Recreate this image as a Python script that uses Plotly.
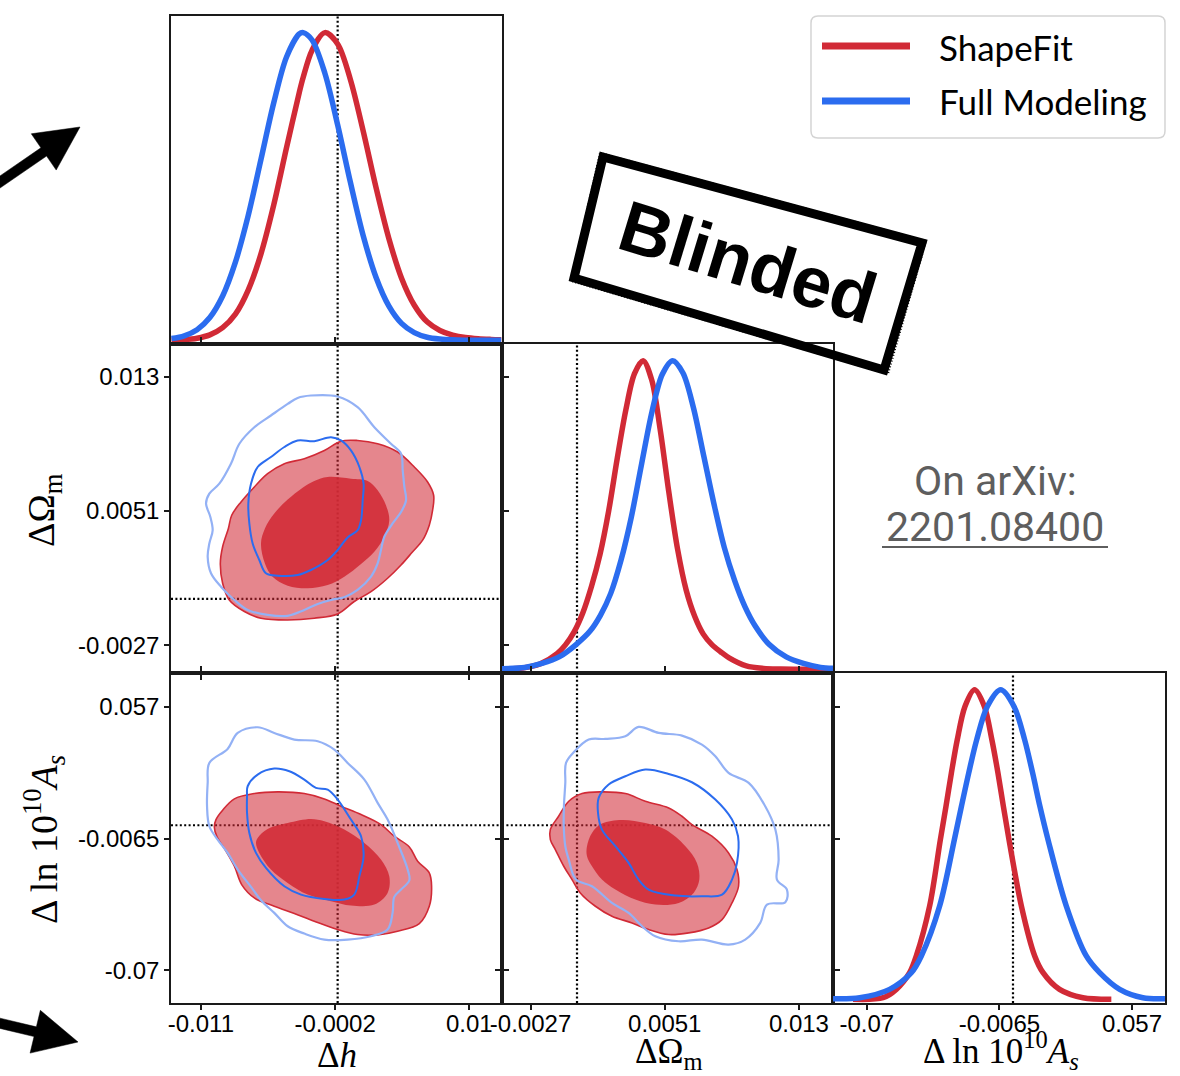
import math
import plotly.graph_objects as go

FIG_W, FIG_H = 1180, 1076

# ---------------------------------------------------------------------------
# 1D marginal posteriors (normalised to unit peak)
# ---------------------------------------------------------------------------
dh_x = [-0.013, -0.012, -0.011, -0.010, -0.009, -0.008, -0.007, -0.006, -0.005,
        -0.004, -0.003, -0.0027, -0.002, -0.001, 0.000, 0.001, 0.002, 0.003,
        0.004, 0.005, 0.006, 0.007, 0.008, 0.009, 0.010, 0.011, 0.012, 0.0128]
dh_shapefit = [0.001, 0.0024, 0.0069, 0.0176, 0.041, 0.085, 0.163, 0.281, 0.440,
               0.626, 0.806, 0.854, 0.943, 1.0, 0.963, 0.847, 0.680, 0.497,
               0.332, 0.202, 0.114, 0.060, 0.032, 0.017, 0.009, 0.005, 0.003, 0.002]
dh_fullmod = [0.0056, 0.0147, 0.0346, 0.0741, 0.144, 0.254, 0.405, 0.588, 0.772,
              0.921, 0.996, 1.0, 0.976, 0.868, 0.700, 0.513, 0.340, 0.205,
              0.112, 0.055, 0.025, 0.010, 0.004, 0.0015, 0.0005, 0.0002, 0.0001, 0.0]

dom_shapefit_x = [-0.00436, -0.00316, -0.00216, -0.00116, -0.00066, -0.00016, 0.00034,
                  0.00084, 0.00134, 0.00184, 0.00234, 0.00284, 0.00334, 0.00384,
                  0.00434, 0.00484, 0.00534, 0.00584, 0.00634, 0.00684, 0.00734,
                  0.00784, 0.00834, 0.00884, 0.00984, 0.01084, 0.01184, 0.01488]
dom_shapefit_p = [0.001, 0.004, 0.017, 0.051, 0.080, 0.122, 0.183, 0.268, 0.373, 0.513,
                  0.684, 0.841, 0.958, 1.0, 0.938, 0.775, 0.573, 0.391, 0.258, 0.172,
                  0.114, 0.080, 0.057, 0.037, 0.011, 0.003, 0.001, 0.0]
dom_fullmod_x = [-0.00436, -0.00304, -0.00204, -0.00104, -0.00004, 0.00076, 0.00136,
                 0.00196, 0.00256, 0.00316, 0.00376, 0.00436, 0.00496, 0.00556,
                 0.00616, 0.00676, 0.00736, 0.00796, 0.00856, 0.00916, 0.00976,
                 0.01036, 0.01116, 0.01216, 0.01316, 0.01416, 0.01488]
dom_fullmod_p = [0.002, 0.006, 0.019, 0.040, 0.081, 0.124, 0.175, 0.246, 0.354, 0.494,
                 0.667, 0.835, 0.956, 1.0, 0.960, 0.849, 0.693, 0.536, 0.395, 0.288,
                 0.203, 0.140, 0.081, 0.040, 0.019, 0.006, 0.003]

das_shapefit_x = [-0.0766, -0.0622, -0.0559, -0.0495, -0.0463, -0.0399, -0.0348, -0.0321,
                  -0.0295, -0.0267, -0.0230, -0.0184, -0.0137, -0.0101, -0.0072, -0.0046,
                  -0.0019, 0.0040, 0.0104, 0.0144, 0.0223, 0.0335, 0.0471]
das_shapefit_p = [0.0, 0.005, 0.032, 0.086, 0.140, 0.302, 0.515, 0.623, 0.731, 0.838,
                  0.946, 1.0, 0.946, 0.838, 0.731, 0.623, 0.515, 0.302, 0.140, 0.086,
                  0.032, 0.005, 0.0]
das_fullmod_x = [-0.0862, -0.0734, -0.0591, -0.0487, -0.0439, -0.0351, -0.0281, -0.0247,
                 -0.0212, -0.0174, -0.0123, -0.0059, 0.0005, 0.0056, 0.0094, 0.0129,
                 0.0168, 0.0255, 0.0351, 0.0415, 0.0511, 0.0622, 0.0728]
das_fullmod_p = [0.002, 0.005, 0.032, 0.086, 0.140, 0.302, 0.515, 0.623, 0.731, 0.838,
                 0.946, 1.0, 0.946, 0.838, 0.731, 0.623, 0.515, 0.302, 0.140, 0.086,
                 0.032, 0.005, 0.002]

# ---------------------------------------------------------------------------
# 2D credible-region boundaries (68% and 95%)
# ---------------------------------------------------------------------------
# Δh vs ΔΩm
h_om_sf95_x = [0.00026, 0.00156, 0.00313, 0.00469, 0.00600, 0.00704, 0.00751, 0.00743,
               0.00717, 0.00665, 0.00587, 0.00496, 0.00391, 0.00261, 0.00130, 0.0,
               -0.00183, -0.00391, -0.00600, -0.00730, -0.00848, -0.00900, -0.00918,
               -0.00900, -0.00855, -0.00829, -0.00756, -0.00652, -0.00548, -0.00417,
               -0.00261, -0.00104]
h_om_sf95_y = [0.00916, 0.00920, 0.00901, 0.00853, 0.00766, 0.00679, 0.00602, 0.00515,
               0.00428, 0.00341, 0.00274, 0.00197, 0.00120, 0.00042, -0.00015, -0.00087,
               -0.00112, -0.00122, -0.00112, -0.00073, -0.00006, 0.00091, 0.00206,
               0.00303, 0.00409, 0.00486, 0.00563, 0.00650, 0.00727, 0.00785,
               0.00814, 0.00862]
h_om_sf68_x = [-0.00078, 0.00104, 0.00235, 0.00313, 0.00378, 0.00404, 0.00365, 0.00287,
               0.00183, 0.00052, -0.00078, -0.00235, -0.00391, -0.00509, -0.00569,
               -0.00600, -0.00569, -0.00496, -0.00391, -0.00274, -0.00183]
h_om_sf68_y = [0.00708, 0.00698, 0.00685, 0.00631, 0.00544, 0.00457, 0.00361, 0.00274,
               0.00203, 0.00129, 0.00081, 0.00062, 0.00077, 0.00129, 0.00206, 0.00322,
               0.00409, 0.00496, 0.00577, 0.00646, 0.00685]
h_om_fm68_x = [-0.00313, -0.00183, -0.00052, 0.00026, 0.00104, 0.00170, 0.00203, 0.00196,
               0.00183, 0.00156, 0.00078, 0.0, -0.00078, -0.00209, -0.00313, -0.00469,
               -0.00561, -0.00613, -0.00665, -0.00691, -0.00699, -0.00678, -0.00626,
               -0.00522, -0.00417]
h_om_fm68_y = [0.00920, 0.00916, 0.00939, 0.00920, 0.00862, 0.00766, 0.00669, 0.00573,
               0.00457, 0.00399, 0.00357, 0.00284, 0.00226, 0.00168, 0.00139, 0.00135,
               0.00149, 0.00226, 0.00322, 0.00438, 0.00554, 0.00669, 0.00766, 0.00824,
               0.00882]
h_om_fm95_x = [-0.00209, 0.0, 0.00156, 0.00287, 0.00417, 0.00496, 0.00509, 0.00522,
               0.00535, 0.00496, 0.00430, 0.00365, 0.00339, 0.00313, 0.00261, 0.00156,
               0.00052, -0.00052, -0.00156, -0.00261, -0.00391, -0.00548, -0.00704,
               -0.00808, -0.00913, -0.00991, -0.01017, -0.01004, -0.00978, -0.00996,
               -0.01030, -0.01004, -0.00926, -0.00835, -0.00769, -0.00652, -0.00522,
               -0.00391, -0.00313]
h_om_fm95_y = [0.01181, 0.01175, 0.01113, 0.00997, 0.00901, 0.00843, 0.00747, 0.00650,
               0.00573, 0.00505, 0.00438, 0.00361, 0.00284, 0.00206, 0.00129, 0.00052,
               0.0001, -0.00006, -0.00029, -0.00064, -0.00098, -0.00093, -0.00064,
               -0.00006, 0.00071, 0.00149, 0.00245, 0.00322, 0.00399, 0.00476,
               0.00554, 0.00611, 0.00669, 0.00785, 0.00901, 0.00997, 0.01065,
               0.01132, 0.01167]

# Δh vs Δln10^10 As
h_as_sf95_x = [-0.00952, -0.00900, -0.00808, -0.00652, -0.00469, -0.00261, -0.00104,
               0.00026, 0.00183, 0.00339, 0.00443, 0.00561, 0.00626, 0.00717, 0.00735,
               0.00717, 0.00639, 0.00469, 0.00313, 0.00156, 0.0, -0.00183, -0.00339,
               -0.00496, -0.00652, -0.00751, -0.00808, -0.00881, -0.00944, -0.00965]
h_as_sf95_y = [0.00273, 0.00723, 0.01270, 0.01527, 0.01607, 0.01527, 0.01270, 0.00916,
               0.00514, 0.00032, -0.00530, -0.01045, -0.01736, -0.02298, -0.02941,
               -0.03905, -0.04741, -0.05110, -0.05287, -0.05271, -0.05030, -0.04628,
               -0.04259, -0.03905, -0.03503, -0.02860, -0.01977, -0.01173, -0.00562,
               -0.00080]
h_as_sf68_x = [-0.00626, -0.00548, -0.00391, -0.00209, -0.00104, 0.00052, 0.00209,
               0.00339, 0.00404, 0.00391, 0.00287, 0.00104, -0.00052, -0.00235,
               -0.00391, -0.00522, -0.00613, -0.00639]
h_as_sf68_y = [-0.00611, -0.00177, 0.00112, 0.00305, 0.00193, -0.00209, -0.00852,
               -0.01655, -0.02459, -0.03262, -0.03825, -0.03873, -0.03664, -0.03343,
               -0.02780, -0.02137, -0.01334, -0.00852]
h_as_fm68_x = [-0.00704, -0.00626, -0.00496, -0.00378, -0.00261, -0.00170, -0.00078, 0.0,
               0.00104, 0.00183, 0.00203, 0.00170, 0.00130, 0.00052, -0.00104, -0.00287,
               -0.00417, -0.00561, -0.00639, -0.00691, -0.00709, -0.00709]
h_as_fm68_y = [0.01880, 0.02443, 0.02732, 0.02603, 0.02202, 0.01800, 0.01719, 0.01237,
               0.00273, -0.00530, -0.01495, -0.02459, -0.03343, -0.03584, -0.03551,
               -0.03343, -0.02941, -0.02057, -0.01334, -0.00370, 0.00595, 0.01398]
h_as_fm95_x = [-0.01004, -0.00861, -0.00782, -0.00626, -0.00496, -0.00339, -0.00156,
               -0.00026, 0.00078, 0.00209, 0.00313, 0.00391, 0.00469, 0.00548, 0.00561,
               0.00496, 0.00443, 0.00430, 0.00391, 0.00261, 0.00078, -0.00104, -0.00261,
               -0.00391, -0.00496, -0.00600, -0.00678, -0.00782, -0.00861, -0.00939,
               -0.01004, -0.01022, -0.01017]
h_as_fm95_y = [0.03005, 0.03680, 0.04451, 0.04725, 0.04451, 0.04130, 0.04050, 0.03648,
               0.03005, 0.02202, 0.01077, 0.00273, -0.00852, -0.02137, -0.02652,
               -0.03102, -0.03455, -0.04226, -0.05030, -0.05351, -0.05512, -0.05512,
               -0.05223, -0.04869, -0.04226, -0.03616, -0.02973, -0.02137, -0.01334,
               -0.00691, -0.00048, 0.00916, 0.02041]

# ΔΩm vs Δln10^10 As
om_as_sf95_x = [-0.00155, -0.00107, -0.00048, 0.00029, 0.00145, 0.00281, 0.00397,
                0.00533, 0.00610, 0.00668, 0.00784, 0.00881, 0.00930, 0.00939, 0.00901,
                0.00843, 0.00765, 0.00649, 0.00533, 0.00416, 0.00320, 0.00203, 0.00107,
                0.00019, -0.00029, -0.00077, -0.00126, -0.00155]
om_as_sf95_y = [-0.00209, 0.00434, 0.01157, 0.01527, 0.01607, 0.01527, 0.01157, 0.00836,
                0.00434, 0.00032, -0.00530, -0.01334, -0.02137, -0.02941, -0.03744,
                -0.04548, -0.04950, -0.05191, -0.05271, -0.05030, -0.04709, -0.04387,
                -0.03905, -0.03262, -0.02619, -0.01977, -0.01173, -0.00691]
om_as_sf68_x = [0.00058, 0.00087, 0.00145, 0.00261, 0.00397, 0.00513, 0.00630, 0.00697,
                0.00711, 0.00678, 0.00591, 0.00455, 0.00339, 0.00223, 0.00145, 0.00087,
                0.00058]
om_as_sf68_y = [-0.01012, -0.00370, 0.00080, 0.00257, 0.00112, -0.00209, -0.01012,
                -0.01816, -0.02619, -0.03262, -0.03744, -0.03825, -0.03584, -0.03102,
                -0.02619, -0.01977, -0.01495]
om_as_fm68_x = [0.00145, 0.00122, 0.00126, 0.00184, 0.00281, 0.00397, 0.00533, 0.00668,
                0.00804, 0.00901, 0.00936, 0.00930, 0.00901, 0.00843, 0.00726, 0.00571,
                0.00416, 0.00358, 0.00300, 0.00223]
om_as_fm68_y = [-0.00209, 0.00595, 0.01318, 0.01961, 0.02362, 0.02684, 0.02475, 0.02073,
                0.01237, 0.00273, -0.00530, -0.01816, -0.02619, -0.03343, -0.03423,
                -0.03391, -0.03102, -0.02619, -0.01816, -0.01012]
om_as_fm95_x = [-0.00068, -0.00064, -0.00019, 0.00068, 0.00165, 0.00281, 0.00358,
                0.00475, 0.00610, 0.00726, 0.00804, 0.00881, 0.00998, 0.01094, 0.01153,
                0.01172, 0.01162, 0.01220, 0.01211, 0.01104, 0.01065, 0.00978, 0.00881,
                0.00726, 0.00591, 0.00455, 0.00378, 0.00300, 0.00203, 0.00087,
                -0.00006, -0.00048, -0.00068, -0.00077, -0.00076]
om_as_fm95_y = [0.02041, 0.03005, 0.03519, 0.04130, 0.04162, 0.04291, 0.04741, 0.04451,
                0.04323, 0.03889, 0.03326, 0.02523, 0.02041, 0.00916, -0.00209, -0.01655,
                -0.02619, -0.03102, -0.03712, -0.03825, -0.04709, -0.05512, -0.05753,
                -0.05512, -0.05592, -0.05351, -0.04869, -0.04226, -0.03744, -0.02941,
                -0.02619, -0.01655, -0.01012, -0.00048, 0.00916]

# Tick positions / labels
h_tickvals = [-0.0107, -0.0002, 0.0103]
h_ticktext = ["-0.011", "-0.0002", "0.01"]
om_tickvals = [-0.0027, 0.0051, 0.0129]
om_ticktext = ["-0.0027", "0.0051", "0.013"]
as_tickvals = [-0.0700, -0.0065, 0.0570]
as_ticktext = ["-0.07", "-0.0065", "0.057"]

series_names = ["ShapeFit", "Full Modeling"]

# ---------------------------------------------------------------------------
# Styling
# ---------------------------------------------------------------------------
RED = "#d12a36"
BLUE = "#2b6cef"
BLUE_LIGHT = "#93b1f5"
RED_95 = "rgba(209,42,54,0.57)"
RED_68 = "rgba(209,42,54,0.88)"
SPINE = "#1a1a1a"

H_RANGE = [-0.01304, 0.01286]
OM_X_RANGE = [-0.00436, 0.01488]
OM_Y_RANGE = [-0.0043, 0.0148]
AS_X_RANGE = [-0.0862, 0.0728]
AS_Y_RANGE = [-0.0857, 0.0734]
PDF_RANGE = [-0.012, 1.054]

COLS = [(171, 502), (502, 833), (833, 1165)]
ROWS = [(16, 344), (344, 673), (673, 1003)]


def px(xp):
    return xp / FIG_W


def py(yp):
    return 1 - yp / FIG_H


def xdom(c):
    return [px(COLS[c][0]), px(COLS[c][1])]


def ydom(r):
    return [py(ROWS[r][1]), py(ROWS[r][0])]


def closed(seq):
    return list(seq) + [seq[0]]


fig = go.Figure()


def curve(x, y, color, ax):
    fig.add_trace(go.Scatter(
        x=x, y=y, mode="lines", xaxis="x" + ax, yaxis="y" + ax,
        line=dict(color=color, width=5.5, shape="spline", smoothing=0.9),
        hoverinfo="skip", showlegend=False))


def region(x, y, ax, fillcolor, linecolor, width):
    fig.add_trace(go.Scatter(
        x=closed(x), y=closed(y), mode="lines", fill="toself", fillcolor=fillcolor,
        xaxis="x" + ax, yaxis="y" + ax,
        line=dict(color=linecolor, width=width, shape="spline", smoothing=1.0),
        hoverinfo="skip", showlegend=False))


def outline(x, y, ax, color, width):
    fig.add_trace(go.Scatter(
        x=closed(x), y=closed(y), mode="lines", xaxis="x" + ax, yaxis="y" + ax,
        line=dict(color=color, width=width, shape="spline", smoothing=1.0),
        hoverinfo="skip", showlegend=False))


# 1D marginals: panel 1 (Δh), panel 3 (ΔΩm), panel 6 (Δln10^10 As)
curve(dh_x, dh_shapefit, RED, "")
curve(dh_x, dh_fullmod, BLUE, "")
curve(dom_shapefit_x, dom_shapefit_p, RED, "3")
curve(dom_fullmod_x, dom_fullmod_p, BLUE, "3")
curve(das_shapefit_x, das_shapefit_p, RED, "6")
curve(das_fullmod_x, das_fullmod_p, BLUE, "6")

# 2D panels
for ax, sf95, sf68, fm95, fm68 in [
    ("2", (h_om_sf95_x, h_om_sf95_y), (h_om_sf68_x, h_om_sf68_y),
     (h_om_fm95_x, h_om_fm95_y), (h_om_fm68_x, h_om_fm68_y)),
    ("4", (h_as_sf95_x, h_as_sf95_y), (h_as_sf68_x, h_as_sf68_y),
     (h_as_fm95_x, h_as_fm95_y), (h_as_fm68_x, h_as_fm68_y)),
    ("5", (om_as_sf95_x, om_as_sf95_y), (om_as_sf68_x, om_as_sf68_y),
     (om_as_fm95_x, om_as_fm95_y), (om_as_fm68_x, om_as_fm68_y)),
]:
    region(sf95[0], sf95[1], ax, RED_95, RED, 1.6)
    region(sf68[0], sf68[1], ax, RED_68, "rgba(209,42,54,0.0)", 0.5)
    outline(fm95[0], fm95[1], ax, BLUE_LIGHT, 2.2)
    outline(fm68[0], fm68[1], ax, BLUE, 2.0)

# ---------------------------------------------------------------------------
# Axes
# ---------------------------------------------------------------------------
TICKFONT = dict(family="Liberation Sans, Arial, sans-serif", size=24, color="black")


def axis(domain, rng, anchor, tickvals=None, ticktext=None, labels=False, standoff=0):
    a = dict(domain=domain, range=rng, anchor=anchor, showline=True, linecolor=SPINE,
             linewidth=1.6, mirror=True, showgrid=False, zeroline=False,
             fixedrange=True, automargin=False, ticks="", showticklabels=False)
    if tickvals is not None:
        a.update(tickmode="array", tickvals=tickvals, ticktext=ticktext,
                 ticks="outside", ticklen=5, tickwidth=1.5, tickcolor=SPINE,
                 mirror="ticks", showticklabels=labels, tickfont=TICKFONT,
                 ticklabelstandoff=standoff)
    return a


layout_axes = dict(
    xaxis=axis(xdom(0), H_RANGE, "y"),
    yaxis=axis(ydom(0), PDF_RANGE, "x"),
    xaxis2=axis(xdom(0), H_RANGE, "y2", h_tickvals, h_ticktext, False),
    yaxis2=axis(ydom(1), OM_Y_RANGE, "x2", om_tickvals, om_ticktext, True),
    xaxis3=axis(xdom(1), OM_X_RANGE, "y3"),
    yaxis3=axis(ydom(1), PDF_RANGE, "x3"),
    xaxis4=axis(xdom(0), H_RANGE, "y4", h_tickvals, h_ticktext, True, -7),
    yaxis4=axis(ydom(2), AS_Y_RANGE, "x4", as_tickvals, as_ticktext, True),
    xaxis5=axis(xdom(1), OM_X_RANGE, "y5", om_tickvals, om_ticktext, True, -7),
    yaxis5=axis(ydom(2), AS_Y_RANGE, "x5", as_tickvals, as_ticktext, False),
    xaxis6=axis(xdom(2), AS_X_RANGE, "y6", as_tickvals, as_ticktext, True, -7),
    yaxis6=axis(ydom(2), PDF_RANGE, "x6"),
)
layout_axes["xaxis6"]["mirror"] = True

# ---------------------------------------------------------------------------
# Fiducial (zero) reference lines
# ---------------------------------------------------------------------------
DOT = dict(color="black", width=2.2, dash="2px,2.4px")
shapes = []
for ax in ["", "2", "3", "4", "5", "6"]:
    shapes.append(dict(type="line", layer="below", xref="x" + ax, yref=f"y{ax} domain",
                       x0=0, x1=0, y0=0, y1=1, line=DOT))
for ax in ["2", "4", "5"]:
    shapes.append(dict(type="line", layer="below", xref=f"x{ax} domain", yref="y" + ax,
                       x0=0, x1=1, y0=0, y1=0, line=DOT))

# ---------------------------------------------------------------------------
# Legend box (drawn by hand so the line samples match the curve style)
# ---------------------------------------------------------------------------
LX0, LX1, LY0, LY1, LR = 811, 1165, 16, 138, 7


def P(xp, yp):
    return f"{px(xp):.6f},{py(yp):.6f}"


legend_path = (f"M{P(LX0 + LR, LY0)} L{P(LX1 - LR, LY0)} Q{P(LX1, LY0)} {P(LX1, LY0 + LR)} "
               f"L{P(LX1, LY1 - LR)} Q{P(LX1, LY1)} {P(LX1 - LR, LY1)} "
               f"L{P(LX0 + LR, LY1)} Q{P(LX0, LY1)} {P(LX0, LY1 - LR)} "
               f"L{P(LX0, LY0 + LR)} Q{P(LX0, LY0)} {P(LX0 + LR, LY0)} Z")
shapes.append(dict(type="path", xref="paper", yref="paper", path=legend_path,
                   line=dict(color="#d4d4d4", width=1.5), fillcolor="rgba(255,255,255,0.9)"))
for yp, col in [(46, RED), (101, BLUE)]:
    shapes.append(dict(type="line", xref="paper", yref="paper",
                       x0=px(822), x1=px(910), y0=py(yp), y1=py(yp),
                       line=dict(color=col, width=7)))

# "Blinded" stamp frame
stamp = [(603, 157), (922, 243), (884, 370), (574, 278)]
shapes.append(dict(type="path", xref="paper", yref="paper",
                   path="M" + " L".join(P(x, y) for x, y in stamp) + " Z",
                   line=dict(color="black", width=9)))
stamp_rough = [(600, 153), (926, 241), (888, 374), (571, 281)]
shapes.append(dict(type="path", xref="paper", yref="paper",
                   path="M" + " L".join(P(x, y) for x, y in stamp_rough) + " Z",
                   line=dict(color="black", width=2, dash="1px,2px")))

# underline of the arXiv number
shapes.append(dict(type="line", xref="paper", yref="paper", x0=px(882), x1=px(1108),
                   y0=py(547), y1=py(547), line=dict(color="#5e5e5e", width=2)))


# margin arrows (filled polygons: shaft + head)
def arrow_path(tip, angle_deg, shaft_len=120, head_len=44, head_half=22, shaft_half=5):
    ux, uy = math.cos(math.radians(angle_deg)), math.sin(math.radians(angle_deg))
    nx, ny = -uy, ux
    tx, ty = tip
    bx, by = tx - head_len * ux, ty - head_len * uy
    sx, sy = tx - shaft_len * ux, ty - shaft_len * uy
    pts = [(sx + shaft_half * nx, sy + shaft_half * ny),
           (bx + shaft_half * nx, by + shaft_half * ny),
           (bx + head_half * nx, by + head_half * ny),
           (tx, ty),
           (bx - head_half * nx, by - head_half * ny),
           (bx - shaft_half * nx, by - shaft_half * ny),
           (sx - shaft_half * nx, sy - shaft_half * ny)]
    return "M" + " L".join(P(x, y) for x, y in pts) + " Z"


for tip, ang in [((80, 127), -34.5), ((78, 1042), 13.5)]:
    shapes.append(dict(type="path", xref="paper", yref="paper", path=arrow_path(tip, ang),
                       fillcolor="black", line=dict(color="black", width=0.5)))

# ---------------------------------------------------------------------------
# Text
# ---------------------------------------------------------------------------
SERIF = "Liberation Serif, Times New Roman, serif"
ann = []


def text(xp, yp, s, size, family, color="black", angle=0, xanchor="center",
         yanchor="middle"):
    ann.append(dict(x=px(xp), y=py(yp), xref="paper", yref="paper", text=s,
                    showarrow=False, font=dict(size=size, family=family, color=color),
                    textangle=angle, xanchor=xanchor, yanchor=yanchor, borderpad=0))


text(337, 1076, "Δ<i>h</i>", 35, SERIF, yanchor="bottom")
text(669, 1076, "ΔΩ<sub>m</sub>", 35, SERIF, yanchor="bottom")
text(1001, 1076, "Δ ln 10<sup>10</sup><i>A<sub>s</sub></i>", 35, SERIF, yanchor="bottom")
text(44, 510, "ΔΩ<sub>m</sub>", 38, SERIF, angle=-90)
text(44, 840, "Δ ln 10<sup>10</sup><i>A<sub>s</sub></i>", 38, SERIF, angle=-90)

text(938, 47, series_names[0], 35, "Lato, sans-serif", xanchor="left")
text(938, 101, series_names[1], 35, "Lato, sans-serif", xanchor="left")

text(995, 481, "On arXiv:", 41, "Roboto, sans-serif", color="#5e5e5e")
text(995, 527, "2201.08400", 41, "Roboto, sans-serif", color="#5e5e5e")

text(748, 262, "<b>Blinded</b>", 72, "Liberation Sans, Arial, sans-serif", angle=17)

fig.update_layout(
    width=FIG_W, height=FIG_H, autosize=False,
    margin=dict(l=0, r=0, t=0, b=0, autoexpand=False),
    paper_bgcolor="white", plot_bgcolor="rgba(0,0,0,0)",
    showlegend=False, shapes=shapes, annotations=ann,
    **layout_axes,
)

fig.write_html("out.html")
